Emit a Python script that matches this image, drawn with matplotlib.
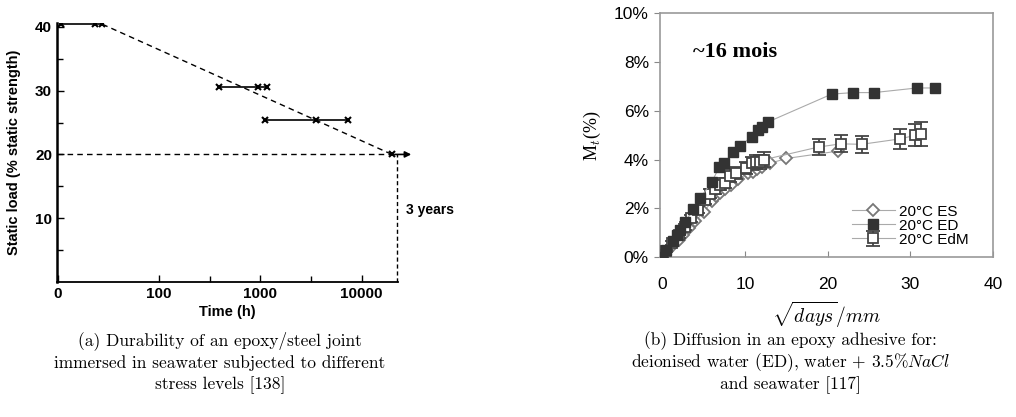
import matplotlib.pyplot as plt
import numpy as np
from matplotlib.ticker import FixedLocator, PercentFormatter

plt.rcParams["mathtext.fontset"] = "cm"

# Panel (a): static load durability, time in hours (log axis, 10 h labelled "0")
load_levels = [40.4, 30.5, 25.4]
load_times = [
    [10.7, 23.0, 27.5],
    [390, 955, 1175],
    [1120, 3550, 7400],
]
trend_t = [27.5, 20000]
trend_load = [40.4, 20.0]
limit_t = 20000
limit_load = 20.0
arrow_end_t = 33000
three_years_t = 22400
x_ticks_a = [10, 100, 1000, 10000]
x_ticklabels_a = ["0", "100", "1000", "10000"]

# Panel (b): mass uptake vs sqrt(days)/mm
ed_x = [0, 0.5, 1.3, 1.8, 2.2, 2.8, 3.7, 4.6, 6.0, 6.9, 7.5, 8.6, 9.4, 10.9, 11.6, 12.1, 12.8,
        20.5, 23.1, 25.6, 30.8, 33.0]
ed_y = [0.03, 0.3, 0.65, 0.9, 1.1, 1.45, 1.97, 2.43, 3.1, 3.7, 3.88, 4.33, 4.58, 4.95, 5.2, 5.35, 5.55,
        6.69, 6.75, 6.75, 6.94, 6.94]
es_x = [0, 0.6, 1.3, 2.0, 2.5, 3.2, 4.0, 5.0, 6.0, 6.5, 7.0, 7.6, 8.3, 9.2, 10.4, 11.0, 11.5, 12.0,
        13.0, 15.0, 21.2]
es_y = [-0.04, 0.25, 0.5, 0.7, 0.9, 1.2, 1.48, 1.85, 2.3, 2.5, 2.65, 2.8, 2.95, 3.2, 3.45, 3.5, 3.6, 3.7,
        3.85, 4.05, 4.35]
edm_x = [0, 0.5, 1.2, 2.0, 2.8, 3.5, 4.3, 5.2, 5.8, 6.4, 7.0, 7.6, 8.2, 8.9, 10.1, 10.9, 11.3, 11.8,
         12.3, 18.9, 21.6, 24.1, 28.7, 30.6, 31.3]
edm_y = [0.03, 0.25, 0.6, 0.9, 1.25, 1.6, 1.95, 2.35, 2.6, 2.8, 2.95, 3.05, 3.35, 3.45, 3.65, 3.85, 3.9,
         3.9, 4.0, 4.52, 4.65, 4.63, 4.85, 5.0, 5.05]
edm_err = [0.02, 0.05, 0.08, 0.1, 0.12, 0.14, 0.15, 0.17, 0.18, 0.2, 0.2, 0.22, 0.25, 0.25, 0.25, 0.28,
           0.3, 0.3, 0.3, 0.32, 0.35, 0.35, 0.42, 0.45, 0.48]

fig = plt.figure(figsize=(10.16, 4.17), dpi=100)

# ---------- (a) ----------
ax1 = fig.add_axes([0.0561, 0.3237, 0.3356, 0.6211])
bold = {"family": "Liberation Sans", "weight": "bold"}

for lvl, ts in zip(load_levels, load_times):
    ax1.plot(ts, [lvl] * len(ts), color="black", lw=1.2, marker="x", ms=5, mew=1.5)
ax1.plot(trend_t, trend_load, color="black", lw=1.0, ls=(0, (4, 3)))
ax1.plot([1, limit_t], [limit_load, limit_load], color="black", lw=1.0, ls=(0, (4, 3)))
ax1.plot([limit_t], [limit_load], color="black", marker="x", ms=5, mew=1.5)
ax1.annotate("", xy=(arrow_end_t, limit_load), xytext=(limit_t, limit_load),
             arrowprops=dict(arrowstyle="-|>", color="black", lw=1.2, mutation_scale=9),
             annotation_clip=False)
ax1.plot([three_years_t, three_years_t], [0, limit_load], color="black", lw=1.0,
         ls=(0, (3, 2)), clip_on=False)
ax1.text(27500, 11.3, "3 years", fontsize=10, ha="left", va="center", **bold)

ax1.set_xscale("log")
ax1.set_xlim(10 ** 0.99, 10 ** 4.36)
ax1.set_ylim(0, 40.6)
ax1.xaxis.set_major_locator(FixedLocator(x_ticks_a))
ax1.xaxis.set_minor_locator(FixedLocator([10 ** 2.5, 10 ** 3.5]))
ax1.set_xticklabels(x_ticklabels_a)
ax1.set_yticks([10, 20, 30, 40])
ax1.yaxis.set_minor_locator(FixedLocator([5, 15, 25, 35]))
ax1.tick_params(which="both", direction="in", length=5, width=1, colors="black")
ax1.tick_params(which="minor", length=4)
for lab in ax1.get_xticklabels() + ax1.get_yticklabels():
    lab.set_fontfamily("Liberation Sans")
    lab.set_fontweight("bold")
    lab.set_fontsize(11)
ax1.spines["top"].set_visible(False)
ax1.spines["right"].set_visible(False)
ax1.spines["left"].set_linewidth(1.8)
ax1.spines["bottom"].set_linewidth(1.3)
ax1.set_xlabel("Time (h)", fontsize=10.5, labelpad=3, **bold)
ax1.set_ylabel("Static load (% static strength)", fontsize=10.5, labelpad=10, **bold)

# ---------- (b) ----------
ax2 = fig.add_axes([0.6496, 0.383, 0.3278, 0.5851])
line_c = "#aaaaaa"
ax2.plot(es_x, es_y, color=line_c, lw=0.8, marker="D", ms=6, mfc="white", mec="#777777",
         mew=1.3, label="20°C ES", zorder=3)
ax2.plot(ed_x, ed_y, color=line_c, lw=0.8, marker="s", ms=7.5, mfc="#333333", mec="#333333",
         label="20°C ED", zorder=4)
ax2.errorbar(edm_x, edm_y, yerr=edm_err, color=line_c, lw=0.8, marker="s", ms=7, mfc="white",
             mec="#444444", mew=1.3, ecolor="#444444", elinewidth=1.3, capsize=5, capthick=1.3,
             label="20°C EdM", zorder=3)

ax2.set_xlim(-0.28, 40)
ax2.set_ylim(0, 10)
ax2.set_xticks([0, 10, 20, 30, 40])
ax2.set_yticks([0, 2, 4, 6, 8, 10])
ax2.yaxis.set_major_formatter(PercentFormatter(100, decimals=0))
ax2.tick_params(axis="y", direction="out", length=4, color="#888888", pad=4)
ax2.tick_params(axis="x", direction="in", length=4, color="#888888", pad=14)
for lab in ax2.get_xticklabels() + ax2.get_yticklabels():
    lab.set_fontfamily("Liberation Sans")
    lab.set_fontsize(12.5)
for s in ax2.spines.values():
    s.set_color("#999999")
    s.set_linewidth(1.2)
ax2.set_xlabel(r"$\sqrt{days}/mm$", fontsize=14, labelpad=6)
ax2.set_ylabel(r"M$_t$(%)", fontsize=13, family="Liberation Serif", labelpad=8)
ax2.text(3.7, 8.4, "~16 mois", fontsize=16, family="Liberation Serif", weight="bold",
         ha="left", va="center")
handles, labels = ax2.get_legend_handles_labels()
ax2.legend(handles, labels, loc="lower right", bbox_to_anchor=(0.96, 0.0), frameon=False,
           prop={"family": "Liberation Sans", "size": 11}, labelspacing=0.0,
           handlelength=2.8, handletextpad=0.3, borderpad=0.2)

# ---------- captions ----------
cap = {"family": "cmr10", "fontsize": 12.5, "ha": "center", "va": "center"}
fig.text(0.2165, 1 - 341 / 417, "(a) Durability of an epoxy/steel joint", **cap)
fig.text(0.2165, 1 - 363 / 417, "immersed in seawater subjected to different", **cap)
fig.text(0.2165, 1 - 385 / 417, "stress levels [138]", **cap)
fig.text(0.7776, 1 - 341 / 417, "(b) Diffusion in an epoxy adhesive for:", **cap)
fig.text(0.7776, 1 - 363 / 417, r"deionised water (ED), water + 3.5%$NaCl$", **cap)
fig.text(0.7776, 1 - 385 / 417, "and seawater [117]", **cap)

fig.savefig("out.png", dpi=100)
